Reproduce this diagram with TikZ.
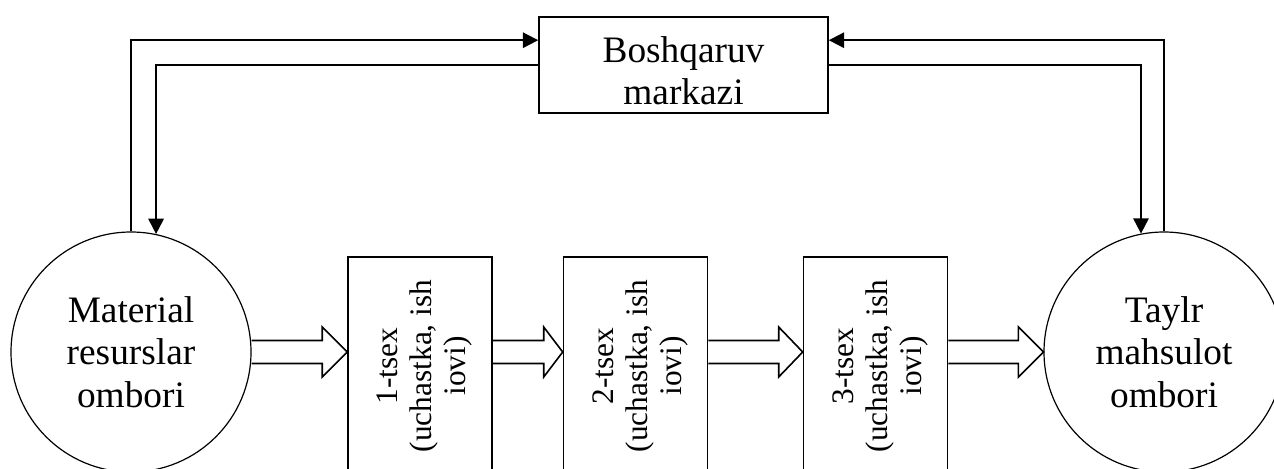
\documentclass[tikz,border=0pt]{standalone}
\usepackage{fontspec}
\setmainfont{Liberation Serif}
\usepackage{tikz}
\usetikzlibrary{arrows.meta,calc}

\tikzset{
  ombor/.style={draw, circle, line width=0.9pt, minimum size=180pt, inner sep=0pt,
    align=center, font=\fontsize{28}{32}\selectfont},
  tsex/.style={draw, rectangle, line width=1.2pt, rotate=90, minimum width=163.5pt,
    minimum height=108pt, inner sep=0pt, align=center, font=\fontsize{23.5}{25.5}\selectfont},
  markaz/.style={draw, rectangle, line width=1.2pt, minimum width=216.75pt,
    minimum height=72pt, inner sep=0pt, align=center, font=\fontsize{28}{32}\selectfont},
  oqim/.style={line width=1.5pt, -{Triangle[length=11.5pt,width=11.5pt]}},
  yolak/.style={line width=1.2pt, line join=miter},
}
% wide arrow: from, to, head length
\newcommand{\blockarrow}[3]{%
  \draw[yolak] ($(#1)+(0,-11.5)$) -- ($(#2)+(-#3,-11.5)$) -- ($(#2)+(-#3,-25)$) -- (#2)
    -- ($(#2)+(-#3,25)$) -- ($(#2)+(-#3,11.5)$) -- ($(#1)+(0,11.5)$);}

\begin{document}
\begin{tikzpicture}[x=0.75pt, y=-0.75pt]
\useasboundingbox (0,0) rectangle (1274,468);
\clip (0,0) rectangle (1274,468);
%%%%% Nodes %%%%%
\node[markaz] (boshqaruv) at (683.5,65) {\rule{0pt}{28pt}Boshqaruv\\markazi};
\node[ombor] (resurs) at (131,352) {Material\\resurslar\\ombori};
\node[ombor] (taylr) at (1164,352) {Taylr\\mahsulot\\ombori};
% rotated boxes: north is the left side, south the right side
\node[tsex] (tsexA) at (420,366) {\rule{0pt}{22.5pt}1-tsex\\(uchastka, ish\\iovi)};
\node[tsex] (tsexB) at (635.5,366) {\rule{0pt}{22.5pt}2-tsex\\(uchastka, ish\\iovi)};
\node[tsex] (tsexC) at (875.5,366) {\rule{0pt}{22.5pt}3-tsex\\(uchastka, ish\\iovi)};
%%%%% Control loops %%%%%
\draw[oqim] (resurs.north) |- ([yshift=-18pt]boshqaruv.north west);
\draw[oqim] (boshqaruv.west) -| (resurs.78.5);
\draw[oqim] (taylr.north) |- ([yshift=-18pt]boshqaruv.north east);
\draw[oqim] (boshqaruv.east) -| (taylr.101.5);
%%%%% Material flow %%%%%
\blockarrow{resurs.east}{tsexA.north |- resurs.east}{25}
\blockarrow{tsexA.south |- resurs.east}{tsexB.north |- resurs.east}{19}
\blockarrow{tsexB.south |- resurs.east}{tsexC.north |- resurs.east}{24}
\blockarrow{tsexC.south |- resurs.east}{taylr.west}{25}
\end{tikzpicture}
\end{document}
